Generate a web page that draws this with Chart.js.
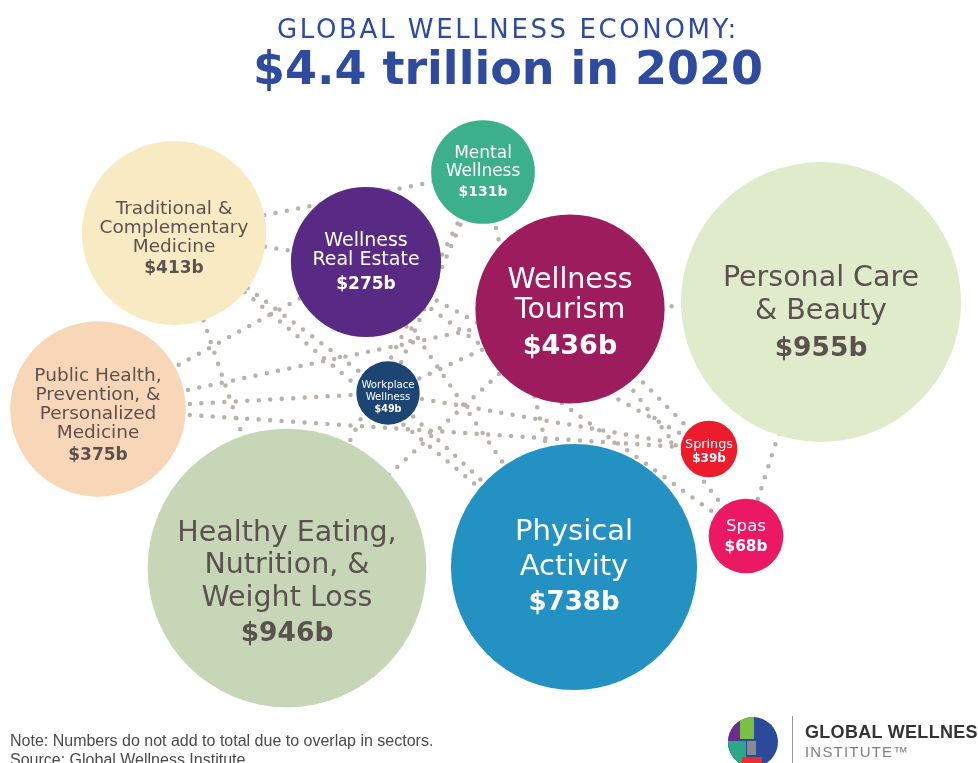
<html>
<head>
<style>
  body { margin: 0; background: #fff; overflow: hidden; }
  #wrap { position: absolute; left: 0; top: 0; width: 978px; height: 763px; }
  .title1 { position: absolute; left: 38px; width: 940px; top: 14px; text-align: center;
            font-family: "DejaVu Sans", sans-serif; font-size: 26px; letter-spacing: 2.6px; color: #2f4ba0; }
  .title2 { position: absolute; left: 38px; width: 940px; top: 41px; text-align: center;
            font-family: "DejaVu Sans", sans-serif; font-weight: bold; font-size: 46px; color: #2f4ba0; }
  .note { position: absolute; left: 10px; top: 731px; font-family: "Liberation Sans Narrow", "Liberation Sans", sans-serif;
          font-size: 16px; color: #4a4a4a; line-height: 19px; }
  .logo { position: absolute; left: 728px; top: 717px; width: 50px; height: 50px; border-radius: 50%; overflow: hidden; background: #2b4a9a; }
  .logo div { position: absolute; }
  .sep { position: absolute; left: 792px; top: 716px; width: 1px; height: 50px; background: #999; }
  .gwi1 { position: absolute; left: 805px; top: 722px; font-family: "Liberation Sans", sans-serif; font-weight: bold; font-size: 18px; color: #333; white-space: nowrap; letter-spacing: 0.3px; }
  .gwi2 { position: absolute; left: 805px; top: 743px; font-family: "Liberation Sans", sans-serif; font-size: 15px; color: #808080; letter-spacing: 1.2px; white-space: nowrap; }
</style>
<script src="https://cdn.jsdelivr.net/npm/chart.js@4.4.1/dist/chart.umd.min.js"></script>
</head>
<body>
<div id="wrap"><canvas id="bubbles"></canvas></div>

<div class="title1">GLOBAL WELLNESS ECONOMY:</div>
<div class="title2">$4.4 trillion in 2020</div>

<div class="note">Note: Numbers do not add to total due to overlap in sectors.<br>Source: Global Wellness Institute</div>

<div class="logo">
  <div style="left:0;top:0;width:12px;height:50px;background:#6a2c8e;"></div>
  <div style="left:12px;top:0;width:14px;height:22px;background:#7cbf45;"></div>
  <div style="left:0;top:24px;width:18px;height:26px;background:#2aa88a;"></div>
  <div style="left:19px;top:24px;width:9px;height:14px;background:#8a8a8a;"></div>
  <div style="left:14px;top:40px;width:20px;height:10px;background:#e8312f;"></div>
</div>
<div class="sep"></div>
<div class="gwi1">GLOBAL WELLNESS</div>
<div class="gwi2">INSTITUTE&#8482;</div>

<script>
// sectors of the wellness economy, spending in billions of US$
var sectors = [
    ['Traditional &', 'Complementary', 'Medicine'],
    ['Wellness', 'Real Estate'],
    ['Mental', 'Wellness'],
    ['Wellness', 'Tourism'],
    ['Personal Care', '& Beauty'],
    ['Public Health,', 'Prevention, &', 'Personalized', 'Medicine'],
    ['Workplace', 'Wellness'],
    ['Springs'],
    ['Spas'],
    ['Healthy Eating,', 'Nutrition, &', 'Weight Loss'],
    ['Physical', 'Activity']
]
var valuesB = [413, 275, 131, 436, 955, 375, 49, 39, 68, 946, 738]
// where each bubble sits in the layout
var xPos = [174, 366, 483, 570, 821, 98, 388, 709, 746, 287, 574]
var yPos = [233, 262, 172, 309, 302, 409, 393, 449, 536, 568, 567]
// dotted connectors, pairs of sector indexes
var links = [
    [0, 2], [0, 1], [0, 9], [0, 10], [0, 6],
    [5, 1], [5, 6], [5, 7], [5, 3],
    [1, 7], [1, 10], [1, 8],
    [2, 10], [2, 9], [2, 6],
    [6, 3], [6, 10], [9, 3], [3, 7], [3, 8],
    [4, 3], [4, 8], [6, 7]
]

// styling
var dark = '#5b514f'
var fills = ['#f8ebc3', '#582a83', '#3bb08b', '#9d1c5d', '#e0ebcb', '#f8d7b9', '#1d4574', '#ed1c2d', '#eb1864', '#c6d6b7', '#2391c1']
var inks = [dark, '#fff', '#fff', '#fff', dark, dark, '#fff', '#fff', '#fff', dark, '#fff']
var nameSize = [18.5, 19, 17, 28.5, 28.5, 18.5, 10.2, 12.8, 16.6, 28.5, 29]
var valueSize = [17, 17, 14, 27, 26.5, 17, 9.6, 12, 15.3, 26.5, 26]
var lineGap = [19, 19, 18, 30, 33, 19, 12, 14, 20, 32.5, 35]
var valueGap = [22, 25, 21, 36, 37, 22, 12, 14, 20, 36, 36]
var labelDy = [6, 1, 1, 5, 12, 7, 4, 3, 1, 16, 1]

function radiusFor(v) {
    return 4.53 * Math.sqrt(v)
}

var bubbleData = valuesB.map(function (v, i) {
    return { x: xPos[i], y: yPos[i], r: radiusFor(v) }
})

var datasets = [{
    type: 'bubble',
    data: bubbleData,
    backgroundColor: fills,
    borderWidth: 0,
    clip: false,
    order: 0
}]

links.forEach(function (l) {
    datasets.push({
        type: 'line',
        data: [{ x: xPos[l[0]], y: yPos[l[0]] }, { x: xPos[l[1]], y: yPos[l[1]] }],
        borderColor: '#b8b2ac',
        borderWidth: 4.5,
        borderDash: [0, 11.5],
        borderCapStyle: 'round',
        pointRadius: 0,
        fill: false,
        clip: false,
        order: 1
    })
})

// names and values written inside the bubbles
var bubbleLabels = {
    id: 'bubbleLabels',
    afterDatasetsDraw: function (chart) {
        var ctx = chart.ctx
        var meta = chart.getDatasetMeta(0)
        ctx.save()
        ctx.textAlign = 'center'
        ctx.textBaseline = 'middle'
        meta.data.forEach(function (pt, i) {
            var lines = sectors[i]
            var total = (lines.length - 1) * lineGap[i] + valueGap[i]
            var y = pt.y - total / 2 + labelDy[i]
            ctx.fillStyle = inks[i]
            ctx.font = nameSize[i] + 'px "DejaVu Sans"'
            lines.forEach(function (t, k) {
                ctx.fillText(t, pt.x, y + k * lineGap[i])
            })
            ctx.font = 'bold ' + valueSize[i] + 'px "DejaVu Sans"'
            ctx.fillText('$' + valuesB[i] + 'b', pt.x, y + (lines.length - 1) * lineGap[i] + valueGap[i])
        })
        ctx.restore()
    }
}

var chart = new Chart(document.getElementById('bubbles'), {
    data: { datasets: datasets },
    options: {
        responsive: true,
        maintainAspectRatio: false,
        animation: false,
        layout: { padding: 0, autoPadding: false },
        plugins: { legend: { display: false }, tooltip: { enabled: false } },
        events: [],
        scales: {
            x: { type: 'linear', min: 0, max: 978, display: false },
            y: { type: 'linear', min: 0, max: 763, reverse: true, display: false }
        }
    },
    plugins: [bubbleLabels]
})
</script>
</body>
</html>
